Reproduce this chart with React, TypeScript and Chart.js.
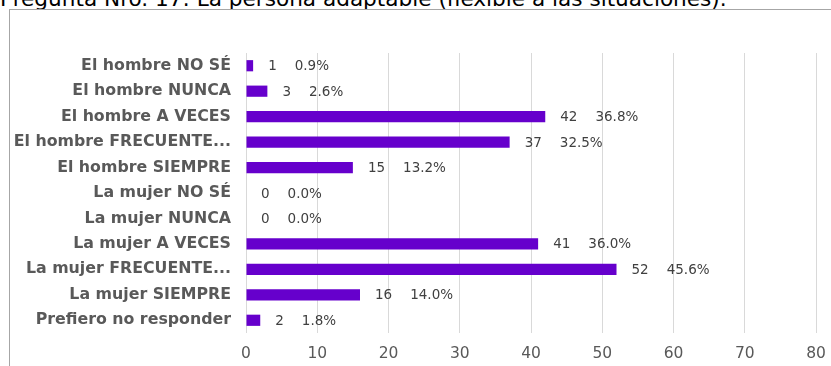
import React, { useEffect, useRef } from "react";
import { Chart, registerables } from "chart.js";

Chart.register(...registerables);

const TITLE = "Pregunta Nro. 17: La persona adaptable (flexible a las situaciones).";

const categories = [
  "El hombre NO SÉ",
  "El hombre NUNCA",
  "El hombre A VECES",
  "El hombre FRECUENTE...",
  "El hombre SIEMPRE",
  "La mujer NO SÉ",
  "La mujer NUNCA",
  "La mujer A VECES",
  "La mujer FRECUENTE...",
  "La mujer SIEMPRE",
  "Prefiero no responder",
];

const counts = [1, 3, 42, 37, 15, 0, 0, 41, 52, 16, 2];
const percents = ["0.9%", "2.6%", "36.8%", "32.5%", "13.2%", "0.0%", "0.0%", "36.0%", "45.6%", "14.0%", "1.8%"];

const xTicks = [0, 10, 20, 30, 40, 50, 60, 70, 80];

const FONT = "'DejaVu Sans', Verdana, sans-serif";

const labelPlugin = {
  id: "barLabels",
  afterDatasetsDraw(chart: any) {
    const ctx = chart.ctx;
    const meta = chart.getDatasetMeta(0);
    ctx.save();
    ctx.font = `13.5px ${FONT}`;
    ctx.fillStyle = "#404040";
    ctx.textBaseline = "middle";
    ctx.textAlign = "left";
    meta.data.forEach((el: any, i: number) => {
      const v = String(counts[i]);
      const x0 = el.x + 15;
      ctx.fillText(v, x0, el.y + 1);
      const w = ctx.measureText(v).width;
      ctx.fillText(percents[i], x0 + w + 18, el.y + 1);
    });
    ctx.restore();
  },
};

export default function App() {
  const ref = useRef<HTMLCanvasElement>(null);
  useEffect(() => {
    if (!ref.current) return;
    const chart = new Chart(ref.current, {
      type: "bar",
      data: {
        labels: categories,
        datasets: [
          {
            data: counts,
            backgroundColor: "#6600CC",
            borderWidth: 0,
            barPercentage: 0.44,
            categoryPercentage: 1,
          },
        ],
      },
      options: {
        indexAxis: "y",
        responsive: false,
        animation: false,
        devicePixelRatio: 1,
        layout: { padding: { left: 0, right: 15, top: 53, bottom: 0 } },
        plugins: {
          legend: { display: false },
          tooltip: { enabled: false },
        },
        scales: {
          x: {
            min: 0,
            max: 80,
            afterBuildTicks: (s: any) => {
              s.ticks = xTicks.map((v) => ({ value: v }));
            },
            afterFit: (s: any) => {
              s.height = 33;
              s.paddingLeft = 0;
              s.paddingRight = 0;
            },
            grid: { color: "#d9d9d9", lineWidth: 1, drawTicks: false },
            border: { display: false },
            ticks: {
              padding: 12,
              color: "#595959",
              font: { family: FONT, size: 15.5 },
            },
          },
          y: {
            afterFit: (s: any) => {
              s.width = 246;
              s.paddingTop = 0;
              s.paddingBottom = 0;
            },
            grid: { display: false, drawTicks: false },
            border: { display: false },
            ticks: {
              padding: 15,
              color: "#595959",
              font: { family: FONT, size: 15.8, weight: "bold" },
            },
          },
        },
      },
      plugins: [labelPlugin],
    });
    return () => chart.destroy();
  }, []);

  return (
    <div style={{ position: "fixed", left: 0, top: 0, width: 831, height: 366, overflow: "hidden", background: "#fff" }}>
      <div
        style={{
          position: "absolute",
          left: 0,
          top: -14,
          fontFamily: FONT,
          fontSize: 21.6,
          lineHeight: "26px",
          color: "#000",
          whiteSpace: "nowrap",
        }}
      >
        {TITLE}
      </div>
      <div
        style={{
          position: "absolute",
          left: 9,
          top: 9,
          width: 900,
          height: 500,
          borderLeft: "1px solid #a6a6a6",
          borderTop: "1px solid #a6a6a6",
        }}
      />
      <canvas ref={ref} width={831} height={366} style={{ position: "absolute", left: 0, top: 0 }} />
    </div>
  );
}
